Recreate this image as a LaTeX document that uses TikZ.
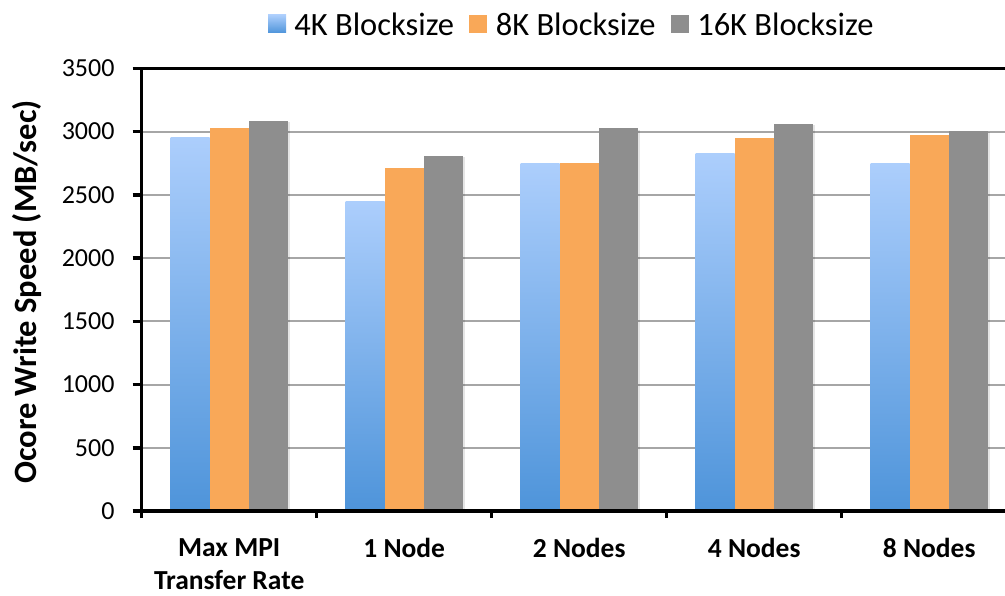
\documentclass[tikz,border=0pt]{standalone}
\usepackage{fontspec}
\setmainfont{Carlito}
\usetikzlibrary{positioning}
\definecolor{barblue}{RGB}{78,148,218}
\definecolor{barbluelight}{RGB}{172,206,252}
\definecolor{barorange}{RGB}{249,168,88}
\definecolor{bargray}{RGB}{142,142,142}
\definecolor{gridgray}{RGB}{166,166,166}
% one unit of speed in pt
\def\ys{0.12645}

\tikzset{
  bluebar/.style={top color=barbluelight, bottom color=barblue, draw=none},
  orangebar/.style={fill=barorange, draw=none},
  graybar/.style={fill=bargray, draw=none},
  barshadow/.style={fill=black, opacity=0.10},
  gridline/.style={gridgray, line width=2pt},
  axisline/.style={black, line width=3.5pt},
  ticklabel/.style={anchor=east, inner sep=0pt, font=\fontsize{26}{30}\selectfont},
  catlabel/.style={anchor=north, inner sep=0pt, align=center, font=\fontsize{27.5}{33}\selectfont\bfseries},
  legsq/.style={minimum size=18pt, inner sep=0pt},
  legtext/.style={inner sep=0pt, font=\fontsize{32.5}{36}\selectfont},
}

\begin{document}
\begin{tikzpicture}[x=1pt, y=1pt]
    \useasboundingbox (-141.7,-84) rectangle (863.3,511);

    % grid
    \foreach \v in {500,1000,...,3000}
        \draw[gridline] (0,{\v*\ys}) -- (863.3,{\v*\ys});

    % bars: 4K / 8K / 16K per group
    \foreach \va/\vb/\vc [count=\i from 0] in {2953/3028/3085, 2447/2716/2809, 2745/2756/3028, 2825/2951/3062, 2748/2975/3006} {
        \pgfmathsetmacro\cx{87.5+175*\i}
        \fill[barshadow] (\cx-56,0) rectangle (\cx-17,{\va*\ys-1.5});
        \fill[barshadow] (\cx-17,0) rectangle (\cx+22,{\vb*\ys-1.5});
        \fill[barshadow] (\cx+22,0) rectangle (\cx+61,{\vc*\ys-1.5});
        \fill[bluebar] (\cx-58.5,0) rectangle (\cx-19.5,{\va*\ys});
        \fill[orangebar] (\cx-19.5,0) rectangle (\cx+19.5,{\vb*\ys});
        \fill[graybar] (\cx+19.5,0) rectangle (\cx+58.5,{\vc*\ys});
    }

    % axes
    \draw[axisline] (0,-7) -- (0,{3500*\ys});
    \draw[axisline] (-9,0) -- (863.3,0);
    \draw[black, line width=3pt] (-9,{3500*\ys}) -- (863.3,{3500*\ys});
    \foreach \v in {500,1000,...,3000}
        \draw[axisline] (-9,{\v*\ys}) -- (0,{\v*\ys});
    \foreach \k in {1,...,4}
        \draw[axisline] (175*\k,0) -- (175*\k,-7);

    % tick labels
    \foreach \v in {0,500,...,3500}
        \node[ticklabel] (y\v) at (-27,{\v*\ys}) {\v};

    % categories
    \foreach \lbl [count=\i from 0] in {{Max MPI\\Transfer Rate},1 Node,2 Nodes,4 Nodes,8 Nodes}
        \node[catlabel] (cat\i) at (87.5+175*\i,-27.5) {\lbl};

    \node[rotate=90, font=\fontsize{32.5}{36}\selectfont\bfseries] (ytitle) at (-114.7,219) {Ocore Write Speed (MB/sec)};

    % legend
    \node[legsq, bluebar] (sq1) at (135.3,487) {};
    \node[legtext, right=8pt of sq1] (lg1) {4K Blocksize};
    \node[legsq, orangebar, right=15pt of lg1] (sq2) {};
    \node[legtext, right=8pt of sq2] (lg2) {8K Blocksize};
    \node[legsq, graybar, right=15pt of lg2] (sq3) {};
    \node[legtext, right=8pt of sq3] (lg3) {16K Blocksize};
\end{tikzpicture}
\end{document}
